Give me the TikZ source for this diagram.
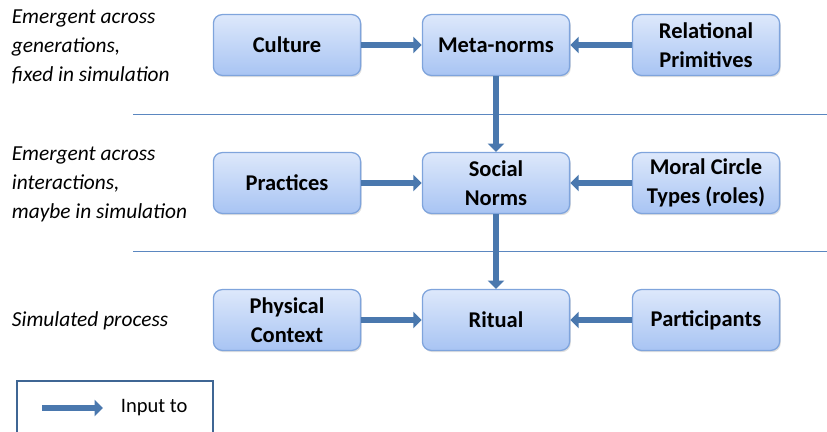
\documentclass[tikz,border=0pt]{standalone}
\usepackage{fontspec}
\setmainfont{Carlito}
\usetikzlibrary{arrows.meta,shadows}
\definecolor{boxtop}{HTML}{DDE8FB}
\definecolor{boxbot}{HTML}{A8C4F3}
\definecolor{boxline}{HTML}{7FA4DC}
\definecolor{arrowblue}{HTML}{4A78AE}
\definecolor{rulecol}{HTML}{5B87C0}
\begin{document}
\begin{tikzpicture}[x=0.025cm, y=-0.025cm,
    main/.style = {draw=boxline, line width=0.9pt, rounded corners=0.22cm,
        top color=boxtop, bottom color=boxbot,
        minimum width=3.68cm, minimum height=1.52cm, align=center,
        font=\fontsize{16}{20.5}\selectfont\bfseries,
        drop shadow={opacity=0.25, shadow xshift=0.8pt, shadow yshift=-1.2pt}},
    input/.style = {draw=arrowblue, line width=4.8pt,
        -{Triangle[length=6pt, width=11.5pt]}},
    side/.style = {anchor=west, align=left,
        font=\fontsize{15.2}{20.6}\selectfont\itshape}]
        \useasboundingbox (0,0) rectangle (827,432);
        \clip (0,0) rectangle (827,432);

        % level separators
        \draw[rulecol, line width=0.7pt] (133,114) -- (827,114);
        \draw[rulecol, line width=0.7pt] (133,251) -- (827,251);

        % left descriptions
        \node[side] (lvlA) at (7,47) {Emergent across\\generations,\\fixed in simulation};
        \node[side] (lvlB) at (7,184) {Emergent across\\interactions,\\maybe in simulation};
        \node[side] (lvlC) at (7,321) {Simulated process};

        % boxes
        \node[main] (culture) at (287,45) {Culture};
        \node[main] (metanorms) at (496,45) {Meta-norms};
        \node[main] (primitives) at (706,45) {Relational\\Primitives};
        \node[main] (practices) at (287,183) {Practices};
        \node[main] (socnorms) at (496,183) {Social\\Norms};
        \node[main] (moral) at (706,183) {Moral Circle\\Types (roles)};
        \node[main] (context) at (287,320) {Physical\\Context};
        \node[main] (ritual) at (496,320) {Ritual};
        \node[main] (participants) at (706,320) {Participants};

        \draw[input] (culture) -- (metanorms);
        \draw[input] (primitives) -- (metanorms);
        \draw[input] (metanorms) -- (socnorms);
        \draw[input] (practices) -- (socnorms);
        \draw[input] (moral) -- (socnorms);
        \draw[input] (socnorms) -- (ritual);
        \draw[input] (context) -- (ritual);
        \draw[input] (participants) -- (ritual);

        % legend
        \draw[draw=arrowblue!85!black, line width=1.4pt] (17,381) rectangle (213,450);
        \coordinate (keyA) at (42,408);
        \coordinate (keyB) at (103,408);
        \draw[input] (keyA) -- (keyB);
        \node[anchor=west, font=\fontsize{14.6}{17}\selectfont] (inputto) at (116,408) {Input to};

    \end{tikzpicture}
\end{document}
